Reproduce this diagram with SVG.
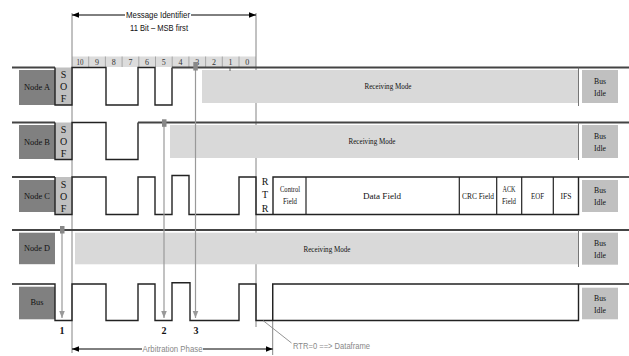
<svg xmlns="http://www.w3.org/2000/svg" width="629" height="356" viewBox="0 0 629 356">
<style>
.node{fill:#808080}
.sof{fill:#c0c0c0}
.rx{fill:#d9d9d9}
.idle{fill:#c0c0c0}
.sig{fill:none;stroke:#222;stroke-width:1.4}
.top{fill:none;stroke:#444;stroke-width:1.8}
.guide{stroke:#777;stroke-width:0.9}
.garrow{stroke:#999;stroke-width:1.2;fill:none}
.mark{fill:#888}
.lbl{font-family:"Liberation Serif",serif;font-size:9px;fill:#111;text-anchor:middle}
.sofl{font-family:"Liberation Serif",serif;font-size:10px;fill:#111;text-anchor:middle}
.bit{font-family:"Liberation Serif",serif;font-size:8px;fill:#333;text-anchor:middle}
.num{font-family:"Liberation Serif",serif;font-size:10px;font-weight:bold;fill:#111;text-anchor:middle}
.sans{font-family:"Liberation Sans",sans-serif;font-size:9px;text-anchor:middle}
</style>
<defs>
<marker id="ab" viewBox="0 0 10 10" refX="10" refY="5" markerWidth="7" markerHeight="7" orient="auto-start-reverse" markerUnits="userSpaceOnUse"><path d="M0,1 L10,5 L0,9 z" fill="#000"/></marker>
<marker id="ag" viewBox="0 0 10 10" refX="10" refY="5" markerWidth="7" markerHeight="7" orient="auto" markerUnits="userSpaceOnUse"><path d="M0,1 L10,5 L0,9 z" fill="#999"/></marker>
</defs>

<g id="header">
<rect x="72" y="56.5" width="184" height="10.5" fill="#dcdcdc"/>
<g stroke="#999" stroke-width="0.8">
<line x1="88.7" y1="56.5" x2="88.7" y2="67"/><line x1="105.4" y1="56.5" x2="105.4" y2="67"/><line x1="122.1" y1="56.5" x2="122.1" y2="67"/><line x1="138.8" y1="56.5" x2="138.8" y2="67"/><line x1="155.5" y1="56.5" x2="155.5" y2="67"/><line x1="172.2" y1="56.5" x2="172.2" y2="67"/><line x1="188.9" y1="56.5" x2="188.9" y2="67"/><line x1="205.6" y1="56.5" x2="205.6" y2="67"/><line x1="222.3" y1="56.5" x2="222.3" y2="67"/><line x1="239" y1="56.5" x2="239" y2="67"/>
</g>
<text class="bit" x="80" y="64.5" textLength="7" lengthAdjust="spacingAndGlyphs">10</text>
<text class="bit" x="97" y="64.5">9</text><text class="bit" x="113.7" y="64.5">8</text><text class="bit" x="130.4" y="64.5">7</text><text class="bit" x="147.1" y="64.5">6</text><text class="bit" x="163.8" y="64.5">5</text><text class="bit" x="180.5" y="64.5">4</text><text class="bit" x="197.2" y="64.5">3</text><text class="bit" x="213.9" y="64.5">2</text><text class="bit" x="230.6" y="64.5">1</text><text class="bit" x="247.3" y="64.5">0</text>
</g>

<g id="guides">
<line class="guide" x1="72" y1="13" x2="72" y2="353"/>
<line class="guide" x1="256" y1="13" x2="256" y2="327"/>
<line class="guide" x1="272.7" y1="284" x2="272.7" y2="355"/>
</g>

<g id="msgid">
<line x1="72" y1="15" x2="125" y2="15" stroke="#000" stroke-width="1" marker-start="url(#ab)"/>
<line x1="191" y1="15" x2="256" y2="15" stroke="#000" stroke-width="1" marker-end="url(#ab)"/>
<text class="sans" x="158" y="18" fill="#111" textLength="64" lengthAdjust="spacingAndGlyphs">Message Identifier</text>
<text class="sans" x="159" y="31" fill="#111" textLength="58" lengthAdjust="spacingAndGlyphs">11 Bit – MSB first</text>
</g>

<g id="nodeA">
<rect class="node" x="19" y="70" width="36" height="35"/>
<text class="lbl" x="37" y="90" textLength="26" lengthAdjust="spacingAndGlyphs">Node A</text>
<rect class="sof" x="55" y="67.5" width="17" height="37.5"/>
<text class="sofl" x="63.5" y="78">S</text><text class="sofl" x="63.5" y="90">O</text><text class="sofl" x="63.5" y="102">F</text>
<rect class="rx" x="202" y="70" width="376" height="33"/>
<text class="lbl" x="388" y="89" textLength="47" lengthAdjust="spacingAndGlyphs">Receiving Mode</text>
<path class="top" d="M12,67.5 H55"/>
<path class="sig" d="M55,67.5 V105 H72 V67.5 H106 V105 H138 V67.5 H155 V105 H172 V67.5"/>
<path class="top" d="M172,67.5 H629"/>
<line x1="230" y1="67.5" x2="230" y2="71" stroke="#444" stroke-width="0.8"/>
<line x1="578.5" y1="67.5" x2="578.5" y2="106" stroke="#666" stroke-width="0.9"/>
<rect class="idle" x="582" y="70" width="36" height="33"/>
<text class="lbl" x="600" y="84" textLength="12" lengthAdjust="spacingAndGlyphs">Bus</text>
<text class="lbl" x="600" y="96" textLength="12" lengthAdjust="spacingAndGlyphs">Idle</text>
</g>

<g id="nodeB">
<rect class="node" x="19" y="125" width="36" height="34"/>
<text class="lbl" x="37" y="145" textLength="26" lengthAdjust="spacingAndGlyphs">Node B</text>
<rect class="sof" x="55" y="122.5" width="17" height="37"/>
<text class="sofl" x="63.5" y="133">S</text><text class="sofl" x="63.5" y="145">O</text><text class="sofl" x="63.5" y="157">F</text>
<rect class="rx" x="170" y="125" width="408" height="33"/>
<text class="lbl" x="372" y="144" textLength="47" lengthAdjust="spacingAndGlyphs">Receiving Mode</text>
<path class="top" d="M12,122.5 H55"/>
<path class="sig" d="M55,122.5 V159.5 H72 V122.5 H106 V159.5 H138 V122.5"/>
<path class="top" d="M138,122.5 H629"/>
<line x1="578.5" y1="122.5" x2="578.5" y2="160" stroke="#666" stroke-width="0.9"/>
<rect class="idle" x="582" y="125" width="36" height="33"/>
<text class="lbl" x="600" y="139" textLength="12" lengthAdjust="spacingAndGlyphs">Bus</text>
<text class="lbl" x="600" y="151" textLength="12" lengthAdjust="spacingAndGlyphs">Idle</text>
</g>

<g id="nodeC">
<rect class="node" x="19" y="180" width="36" height="32"/>
<text class="lbl" x="37" y="199" textLength="26" lengthAdjust="spacingAndGlyphs">Node C</text>
<rect class="sof" x="55" y="177" width="17" height="37.5"/>
<text class="sofl" x="63.5" y="188">S</text><text class="sofl" x="63.5" y="200">O</text><text class="sofl" x="63.5" y="212">F</text>
<path class="top" d="M12,177 H55"/>
<path class="sig" d="M55,177 V214.5 H72 V177 H106 V214.5 H138 V177 H155 V214.5 H172 V175.5 H189 V214.5 H239 V177 H256 V214.5 H578.5 V177"/>
<path class="sig" d="M273,214.5 V177 H629"/>
<g stroke="#222" stroke-width="1.2">
<line x1="306" y1="177" x2="306" y2="214.5"/><line x1="459.3" y1="177" x2="459.3" y2="214.5"/><line x1="496.7" y1="177" x2="496.7" y2="214.5"/><line x1="521.7" y1="177" x2="521.7" y2="214.5"/><line x1="553.3" y1="177" x2="553.3" y2="214.5"/>
</g>
<text class="sofl" x="265" y="185">R</text><text class="sofl" x="265" y="198">T</text><text class="sofl" x="265" y="212">R</text>
<text class="lbl" x="290" y="192" textLength="20" lengthAdjust="spacingAndGlyphs">Control</text>
<text class="lbl" x="290" y="204" textLength="14" lengthAdjust="spacingAndGlyphs">Field</text>
<text class="lbl" x="382" y="199" textLength="38" lengthAdjust="spacingAndGlyphs">Data Field</text>
<text class="lbl" x="478" y="199" textLength="32" lengthAdjust="spacingAndGlyphs">CRC Field</text>
<text class="lbl" x="509" y="192" textLength="13" lengthAdjust="spacingAndGlyphs">ACK</text>
<text class="lbl" x="509" y="204" textLength="14" lengthAdjust="spacingAndGlyphs">Field</text>
<text class="lbl" x="537.5" y="199" textLength="13" lengthAdjust="spacingAndGlyphs">EOF</text>
<text class="lbl" x="566" y="199" textLength="11" lengthAdjust="spacingAndGlyphs">IFS</text>
<rect class="idle" x="582" y="180" width="36" height="32"/>
<text class="lbl" x="600" y="193" textLength="12" lengthAdjust="spacingAndGlyphs">Bus</text>
<text class="lbl" x="600" y="205" textLength="12" lengthAdjust="spacingAndGlyphs">Idle</text>
</g>

<g id="nodeD">
<rect class="node" x="19" y="232.7" width="36" height="31.5"/>
<text class="lbl" x="37" y="251" textLength="26" lengthAdjust="spacingAndGlyphs">Node D</text>
<rect class="rx" x="75" y="232.7" width="503" height="31.6"/>
<text class="lbl" x="327" y="251.5" textLength="47" lengthAdjust="spacingAndGlyphs">Receiving Mode</text>
<path class="top" d="M12,230 H629"/>
<line x1="578.5" y1="230" x2="578.5" y2="267" stroke="#666" stroke-width="0.9"/>
<rect class="idle" x="582" y="232.7" width="36" height="32"/>
<text class="lbl" x="600" y="246" textLength="12" lengthAdjust="spacingAndGlyphs">Bus</text>
<text class="lbl" x="600" y="258" textLength="12" lengthAdjust="spacingAndGlyphs">Idle</text>
</g>

<g id="bus">
<rect class="node" x="19" y="286.7" width="36" height="32.6"/>
<text class="lbl" x="37" y="305" textLength="13" lengthAdjust="spacingAndGlyphs">Bus</text>
<path class="sig" d="M12,284 H55 V320.5 H72 V284 H106 V320.5 H138 V284 H155 V320.5 H172 V282.7 H190 V320.5 H239 V284 H256 V320.5 H578.5 V284"/>
<path class="sig" d="M272.7,320.5 V284 H629"/>
<rect class="idle" x="582" y="287.7" width="36" height="31.6"/>
<text class="lbl" x="600" y="301" textLength="12" lengthAdjust="spacingAndGlyphs">Bus</text>
<text class="lbl" x="600" y="313" textLength="12" lengthAdjust="spacingAndGlyphs">Idle</text>
</g>

<g id="connectors">
<line class="garrow" x1="62" y1="230" x2="62" y2="318" marker-end="url(#ag)"/>
<line class="garrow" x1="164" y1="124" x2="164" y2="318" marker-end="url(#ag)"/>
<line class="garrow" x1="195.5" y1="68" x2="195.5" y2="318" marker-end="url(#ag)"/>
<rect class="mark" x="60" y="226" width="4.5" height="7.5"/>
<rect class="mark" x="162" y="119.3" width="4.5" height="7.5"/>
<rect class="mark" x="193.3" y="62" width="4.5" height="8.5"/>
<text class="num" x="62" y="334">1</text>
<text class="num" x="164" y="334">2</text>
<text class="num" x="196" y="334">3</text>
<line x1="72" y1="349" x2="142" y2="349" stroke="#000" stroke-width="1" marker-start="url(#ab)"/>
<line x1="203" y1="349" x2="272.7" y2="349" stroke="#000" stroke-width="1" marker-end="url(#ab)"/>
<text class="sans" x="172.5" y="352" fill="#888" textLength="60" lengthAdjust="spacingAndGlyphs">Arbitration Phase</text>
<line x1="263" y1="320.5" x2="291.5" y2="343" stroke="#888" stroke-width="0.9"/>
<text class="sans" x="293" y="349" fill="#888" style="text-anchor:start" textLength="77" lengthAdjust="spacingAndGlyphs">RTR=0 ==&gt; Dataframe</text>
</g>
</svg>
